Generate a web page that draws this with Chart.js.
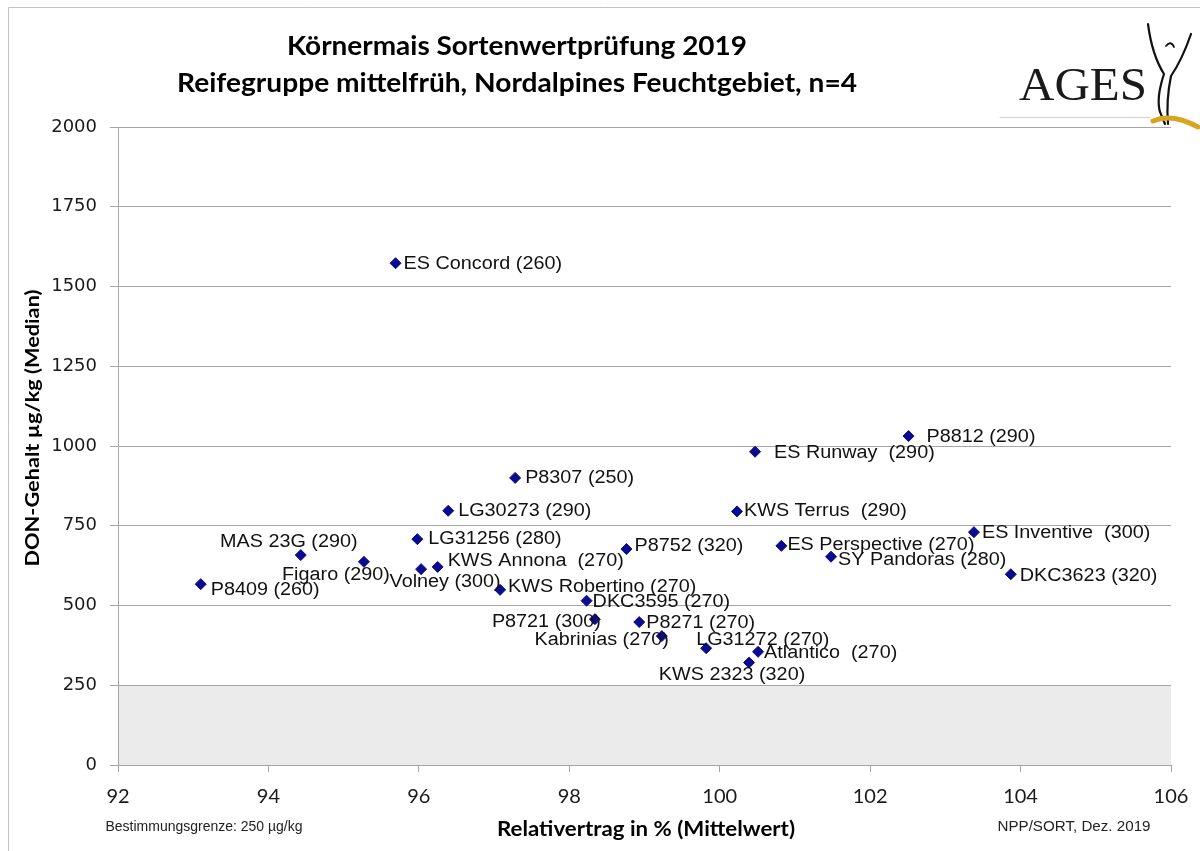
<!DOCTYPE html>
<html>
<head>
<meta charset="utf-8">
<script src="https://cdn.jsdelivr.net/npm/chart.js@4.4.1/dist/chart.umd.min.js"></script>
<style>
  html, body { margin: 0; padding: 0; background: #fff; }
  #wrap { position: relative; width: 1200px; height: 851px; }
</style>
</head>
<body>
<div id="wrap"><canvas id="donChart"></canvas></div>
<script>
// Sorten mit Reifezahl in Klammern
const pointLabels = [
  "ES Concord (260)", "P8812 (290)", "ES Runway  (290)", "P8307 (250)",
  "LG30273 (290)", "KWS Terrus  (290)", "ES Inventive  (300)", "LG31256 (280)",
  "ES Perspective (270)", "P8752 (320)", "MAS 23G (290)", "SY Pandoras (280)",
  "Figaro (290)", "KWS Annona  (270)", "Volney (300)", "DKC3623 (320)",
  "P8409 (260)", "KWS Robertino (270)", "DKC3595 (270)", "P8721 (300)",
  "P8271 (270)", "Kabrinias (270)", "LG31272 (270)", "Atlantico  (270)",
  "KWS 2323 (320)"
];
// Relativertrag in % (Mittelwert)
const relYield = [
  95.69, 102.51, 100.47, 97.28, 96.39, 100.23, 103.38, 95.98,
  100.82, 98.76, 94.43, 101.48, 95.27, 96.25, 96.03, 103.87,
  93.10, 97.08, 98.23, 98.34, 98.93, 99.23, 99.82, 100.51,
  100.39
];
// DON-Gehalt µg/kg (Median)
const donMedian = [
  1573, 1031, 982, 900, 797, 795, 730, 708,
  687, 677, 658, 653, 637, 621, 614, 598,
  567, 549, 515, 457, 448, 404, 366, 355,
  321
];
const xTicks = [92, 94, 96, 98, 100, 102, 104, 106];
const yTicks = [0, 250, 500, 750, 1000, 1250, 1500, 1750, 2000];
const detectionLimit = 250;

// label offsets next to each marker: [dx, dy, align]
const labelPlacement = [
  [8, 1, "left"], [18, 1, "left"], [19, 1, "left"], [10, 0, "left"],
  [10, 0, "left"], [7, 0, "left"], [8, 1, "left"], [11, 0, "left"],
  [6, -1, "left"], [8, -3, "left"], [-12, -13, "center"], [7, 3, "left"],
  [-28, 13, "center"], [10, -6, "left"], [24, 13, "center"], [9, 2, "left"],
  [10, 6, "left"], [8, -3, "left"], [6, 1, "left"], [6, 3, "right"],
  [7, 1, "left"], [7, 4, "right"], [-10, -8, "left"], [6, 1, "left"],
  [-17, 12, "center"]
];
const labelStretch = 1.1;

const gridGrey = "#a6a6a6";

function fitText(ctx, text, cx, y, font, width, rotate) {
  ctx.save();
  ctx.font = font;
  const w = ctx.measureText(text).width;
  ctx.translate(cx, y);
  if (rotate) ctx.rotate(-Math.PI / 2);
  ctx.scale(width / w, 1);
  ctx.textAlign = "center";
  ctx.fillText(text, 0, 0);
  ctx.restore();
}

const pointLabelPlugin = {
  id: "pointLabels",
  afterDatasetsDraw(chart) {
    const meta = chart.getDatasetMeta(1);
    const ctx = chart.ctx;
    ctx.save();
    ctx.font = '18px "Liberation Sans", Arial, sans-serif';
    ctx.fillStyle = "#111";
    ctx.textBaseline = "middle";
    ctx.textAlign = "left";
    meta.data.forEach((pt, i) => {
      const [dx, dy, align] = labelPlacement[i];
      const text = pointLabels[i];
      const w = ctx.measureText(text).width * labelStretch;
      let left = pt.x + dx;
      if (align === "right") left -= w;
      else if (align === "center") left -= w / 2;
      ctx.save();
      ctx.translate(left, pt.y + dy);
      ctx.scale(labelStretch, 1);
      ctx.fillText(text, 0, 0);
      ctx.restore();
    });
    ctx.restore();
  }
};

const decorPlugin = {
  id: "decor",
  afterDraw(chart) {
    const ctx = chart.ctx;
    ctx.save();
    // outer frame
    ctx.strokeStyle = "#c4c4c4";
    ctx.lineWidth = 1;
    ctx.beginPath();
    ctx.moveTo(8.5, 851);
    ctx.lineTo(8.5, 7.5);
    ctx.lineTo(1200, 7.5);
    ctx.stroke();

    // titles
    ctx.fillStyle = "#000";
    ctx.textBaseline = "alphabetic";
    fitText(ctx, "Körnermais Sortenwertprüfung 2019", 517, 55, 'bold 26px Lato, sans-serif', 460);
    fitText(ctx, "Reifegruppe mittelfrüh, Nordalpines Feuchtgebiet, n=4", 517, 92, 'bold 26px Lato, sans-serif', 680);

    ctx.textBaseline = "middle";
    fitText(ctx, "DON-Gehalt µg/kg (Median)", 33, 428, 'bold 18px Lato, sans-serif', 277, true);
    fitText(ctx, "Relativertrag in % (Mittelwert)", 646, 830, 'bold 20px Lato, sans-serif', 298);
    ctx.fillStyle = "#222";
    fitText(ctx, "Bestimmungsgrenze: 250 µg/kg", 204, 827, '14px "Liberation Sans", Arial, sans-serif', 197);
    fitText(ctx, "NPP/SORT, Dez. 2019", 1074, 827, '14px "Liberation Sans", Arial, sans-serif', 153);

    // AGES logo
    ctx.fillStyle = "#1a1a1a";
    ctx.textBaseline = "alphabetic";
    fitText(ctx, "AGES", 1083, 100, '47px "Liberation Serif", "Times New Roman", serif', 128);
    ctx.strokeStyle = "#111";
    ctx.lineCap = "round";
    ctx.lineWidth = 2.2;
    ctx.beginPath(); // left arm to body
    ctx.moveTo(1148, 24);
    ctx.quadraticCurveTo(1152, 55, 1164, 74);
    ctx.quadraticCurveTo(1156, 98, 1160, 112);
    ctx.lineTo(1165, 124);
    ctx.stroke();
    ctx.beginPath(); // right arm to body
    ctx.moveTo(1191, 34);
    ctx.quadraticCurveTo(1182, 60, 1171, 76);
    ctx.quadraticCurveTo(1166, 100, 1168, 124);
    ctx.stroke();
    ctx.lineWidth = 1.8;
    ctx.beginPath(); // head
    ctx.moveTo(1166, 46);
    ctx.quadraticCurveTo(1171, 40, 1174, 47);
    ctx.stroke();
    ctx.strokeStyle = "#d9a520";
    ctx.lineWidth = 5;
    ctx.beginPath(); // gold swoosh
    ctx.moveTo(1153, 121);
    ctx.quadraticCurveTo(1172, 113, 1198, 127);
    ctx.stroke();
    ctx.strokeStyle = "#cfcfcf";
    ctx.lineWidth = 1;
    ctx.beginPath();
    ctx.moveTo(1000, 117.5);
    ctx.lineTo(1150, 117.5);
    ctx.stroke();
    ctx.restore();
  }
};

new Chart(document.getElementById("donChart"), {
  data: {
    datasets: [{
      type: "line",
      label: "Bestimmungsgrenze",
      data: [{ x: xTicks[0], y: detectionLimit }, { x: xTicks[xTicks.length - 1], y: detectionLimit }],
      fill: "origin",
      backgroundColor: "#ebebeb",
      borderWidth: 0,
      pointRadius: 0,
      order: 2
    }, {
      type: "scatter",
      label: "Sorten",
      data: relYield.map((x, i) => ({ x: x, y: donMedian[i] })),
      pointStyle: "rectRot",
      pointRadius: 5.5,
      borderWidth: 1,
      backgroundColor: "#0b0b8f",
      borderColor: "#0b0b8f",
      order: 1
    }]
  },
  options: {
    responsive: true,
    maintainAspectRatio: false,
    animation: false,
    layout: { padding: { left: 8, top: 127, right: 29, bottom: 46 } },
    plugins: {
      legend: { display: false },
      tooltip: { enabled: false },
      filler: { drawTime: "beforeDraw" }
    },
    scales: {
      x: {
        type: "linear",
        min: xTicks[0],
        max: xTicks[xTicks.length - 1],
        afterBuildTicks: s => { s.ticks = xTicks.map(v => ({ value: v })); },
        afterFit: s => { s.height = 40; s.paddingLeft = 0; s.paddingRight = 0; },
        grid: { drawOnChartArea: false, tickLength: 7, color: gridGrey },
        border: { color: gridGrey },
        ticks: { font: { family: "Lato", size: 20 }, color: "#1a1a1a", padding: 13, maxRotation: 0,
                 callback: v => String(v) }
      },
      y: {
        type: "linear",
        min: yTicks[0],
        max: yTicks[yTicks.length - 1],
        afterBuildTicks: s => { s.ticks = yTicks.map(v => ({ value: v })); },
        afterFit: s => { s.width = 110; s.paddingTop = 0; s.paddingBottom = 0; },
        grid: { tickLength: 8, color: gridGrey },
        border: { color: gridGrey },
        ticks: { font: { family: "DejaVu Sans", size: 18 }, color: "#1a1a1a", padding: 13,
                 callback: v => String(v) }
      }
    }
  },
  plugins: [pointLabelPlugin, decorPlugin]
});
</script>
</body>
</html>
